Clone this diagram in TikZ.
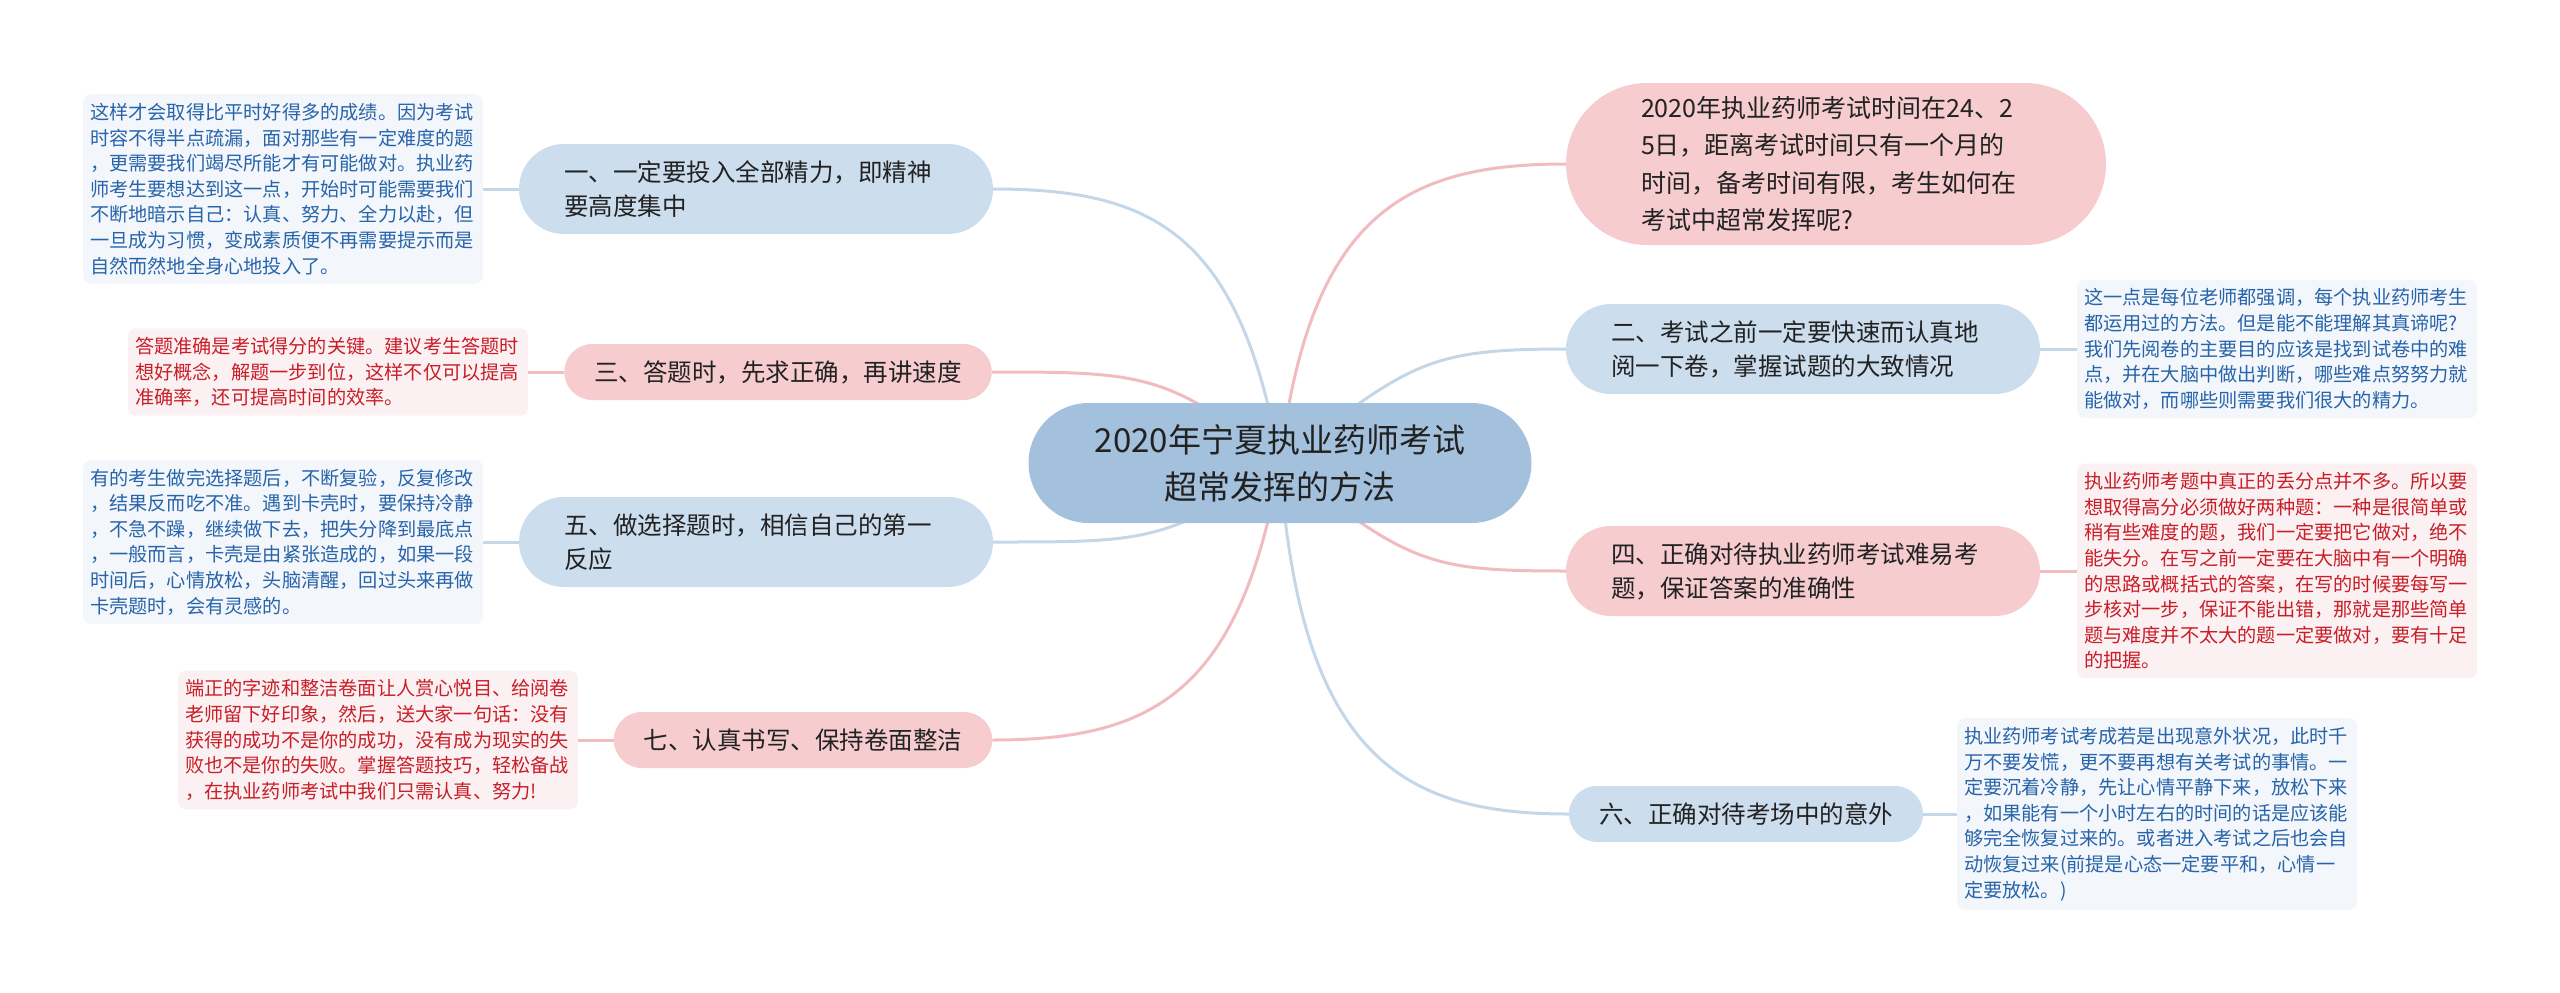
\documentclass[tikz,border=0pt]{standalone}
\usepackage{fontspec}
\setmainfont{Noto Sans CJK SC}
\usetikzlibrary{backgrounds}
\definecolor{rootfill}{RGB}{163,193,221}
\definecolor{brblue}{RGB}{204,221,237}
\definecolor{brpink}{RGB}{246,204,207}
\definecolor{conblue}{RGB}{196,215,233}
\definecolor{conpink}{RGB}{241,187,192}
\definecolor{leafbfill}{RGB}{243,247,251}
\definecolor{leafptfill}{RGB}{252,241,242}
\definecolor{leafbtxt}{RGB}{40,100,170}
\definecolor{leafptxt}{RGB}{200,30,40}
\definecolor{txtdark}{RGB}{34,34,34}
\begin{document}
\begin{tikzpicture}[x=1pt,y=-1pt,
  conb/.style={line width=3pt, draw=conblue},
  conp/.style={line width=3pt, draw=conpink},
  bfill/.style={fill=brblue},
  pfill/.style={fill=brpink},
  rootnode/.style={rectangle, rounded corners=60pt, fill=rootfill, text=txtdark, minimum width=503pt, minimum height=120pt, align=center, inner sep=0pt, font=\fontsize{33}{47}\selectfont},
  toppink/.style={rectangle, rounded corners=81pt, fill=brpink, text=txtdark, minimum height=162pt, text width=390pt, inner xsep=75pt, inner ysep=0pt, align=left, font=\fontsize{25}{37.5}\selectfont},
  brtwo/.style={rectangle, rounded corners=45pt, text=txtdark, minimum height=90pt, text width=384pt, inner xsep=45pt, inner ysep=0pt, align=left, font=\fontsize{24.5}{34}\selectfont},
  brone/.style={rectangle, rounded corners=28pt, text=txtdark, minimum height=56pt, inner xsep=30pt, inner ysep=0pt, font=\fontsize{24.5}{34}\selectfont},
  leafbase/.style={rectangle, rounded corners=8pt, text width=386pt, inner xsep=7pt, inner ysep=9pt, align=left, font=\fontsize{19.2}{25.6}\selectfont},
  leafb/.style={leafbase, fill=leafbfill, text=leafbtxt},
  leafp/.style={leafbase, fill=leafptfill, text=leafptxt}
]
\useasboundingbox (0,0) rectangle (2560,993);

% root
\node[rootnode] (root) at (1280,463) {2020年宁夏执业药师考试\\超常发挥的方法};

% right side
\node[toppink] (top) at (1836,164) {2020年执业药师考试时间在24、2\\5日，距离考试时间只有一个月的\\时间，备考时间有限，考生如何在\\考试中超常发挥呢?};
\node[brtwo, bfill] (b2) at (1803,349) {二、考试之前一定要快速而认真地\\阅一下卷，掌握试题的大致情况};
\node[brtwo, pfill] (b4) at (1803,571) {四、正确对待执业药师考试难易考\\题，保证答案的准确性};
\node[brone, bfill] (b6) at (1746,814) {六、正确对待考场中的意外};

% left side
\node[brtwo, bfill] (b1) at (756,189) {一、一定要投入全部精力，即精神\\要高度集中};
\node[brone, pfill] (b3) at (778,372) {三、答题时，先求正确，再讲速度};
\node[brtwo, bfill] (b5) at (756,542) {五、做选择题时，相信自己的第一\\反应};
\node[brone, pfill] (b7) at (803,740) {七、认真书写、保持卷面整洁};

% leaves
\node[leafb] (l1) at (283,189) {这样才会取得比平时好得多的成绩。因为考试\\时容不得半点疏漏，面对那些有一定难度的题\\，更需要我们竭尽所能才有可能做对。执业药\\师考生要想达到这一点，开始时可能需要我们\\不断地暗示自己：认真、努力、全力以赴，但\\一旦成为习惯，变成素质便不再需要提示而是\\自然而然地全身心地投入了。};
\node[leafp] (l3) at (328,372) {答题准确是考试得分的关键。建议考生答题时\\想好概念，解题一步到位，这样不仅可以提高\\准确率，还可提高时间的效率。};
\node[leafb] (l5) at (283,542) {有的考生做完选择题后，不断复验，反复修改\\，结果反而吃不准。遇到卡壳时，要保持冷静\\，不急不躁，继续做下去，把失分降到最底点\\，一般而言，卡壳是由紧张造成的，如果一段\\时间后，心情放松，头脑清醒，回过头来再做\\卡壳题时，会有灵感的。};
\node[leafp] (l7) at (378,740) {端正的字迹和整洁卷面让人赏心悦目、给阅卷\\老师留下好印象，然后，送大家一句话：没有\\获得的成功不是你的成功，没有成为现实的失\\败也不是你的失败。掌握答题技巧，轻松备战\\，在执业药师考试中我们只需认真、努力!};
\node[leafb] (l2) at (2277,349) {这一点是每位老师都强调，每个执业药师考生\\都运用过的方法。但是能不能理解其真谛呢?\\我们先阅卷的主要目的应该是找到试卷中的难\\点，并在大脑中做出判断，哪些难点努努力就\\能做对，而哪些则需要我们很大的精力。};
\node[leafp] (l4) at (2277,571) {执业药师考题中真正的丢分点并不多。所以要\\想取得高分必须做好两种题：一种是很简单或\\稍有些难度的题，我们一定要把它做对，绝不\\能失分。在写之前一定要在大脑中有一个明确\\的思路或概括式的答案，在写的时候要每写一\\步核对一步，保证不能出错，那就是那些简单\\题与难度并不太大的题一定要做对，要有十足\\的把握。};
\node[leafb] (l6) at (2157,814) {执业药师考试考成若是出现意外状况，此时千\\万不要发慌，更不要再想有关考试的事情。一\\定要沉着冷静，先让心情平静下来，放松下来\\，如果能有一个小时左右的时间的话是应该能\\够完全恢复过来的。或者进入考试之后也会自\\动恢复过来(前提是心态一定要平和，心情一\\定要放松。)};

\begin{scope}[on background layer]
\draw[conp] (root.center) .. controls +(30,-250) and +(-160,0) .. (top.west);
\draw[conb] (root.center) .. controls +(130,-100) and +(-140,0) .. (b2.west);
\draw[conp] (root.center) .. controls +(130,100) and +(-140,0) .. (b4.west);
\draw[conb] (root.center) .. controls +(20,300) and +(-160,0) .. (b6.west);
\draw[conb] (root.center) .. controls +(-40,-230) and +(160,0) .. (b1.east);
\draw[conp] (root.center) .. controls +(-110,-90) and +(150,0) .. (b3.east);
\draw[conb] (root.center) .. controls +(-110,80) and +(150,0) .. (b5.east);
\draw[conp] (root.center) .. controls +(-40,230) and +(160,0) .. (b7.east);
\draw[conb] (b1.west) -- (l1.east);
\draw[conp] (b3.west) -- (l3.east);
\draw[conb] (b5.west) -- (l5.east);
\draw[conp] (b7.west) -- (l7.east);
\draw[conb] (b2.east) -- (l2.west);
\draw[conp] (b4.east) -- (l4.west);
\draw[conb] (b6.east) -- (l6.west);
\end{scope}
\end{tikzpicture}
\end{document}
